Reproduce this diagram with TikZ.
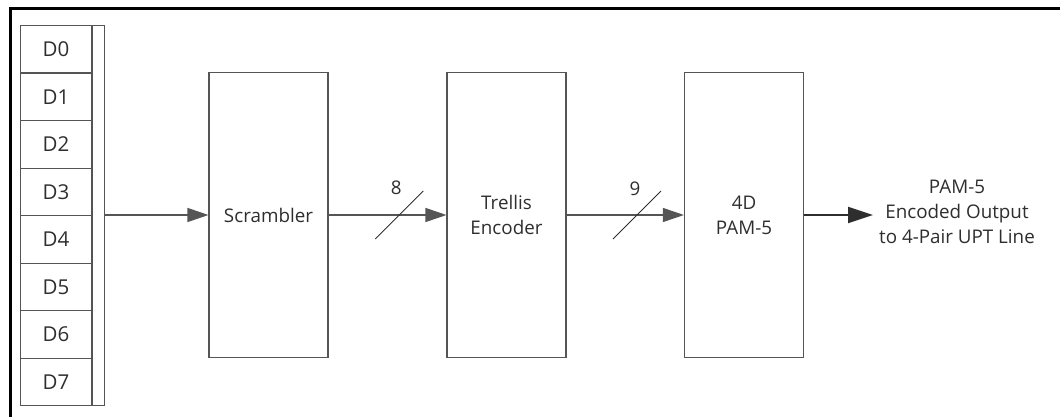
\documentclass[tikz,border=0pt]{standalone}
\usepackage{fontspec}
\setmainfont{Open Sans}
\usetikzlibrary{positioning,arrows.meta}

\definecolor{linegray}{HTML}{555555}
\definecolor{textgray}{HTML}{2E2E2E}

\tikzset{
    cell/.style={draw=linegray, line width=1.1pt, minimum width=71pt, minimum height=47.5pt,
        inner sep=0pt, anchor=north west, text=textgray, font=\fontsize{20.5}{24}\selectfont},
    block/.style={draw=linegray, line width=1.1pt, minimum width=119pt, minimum height=285pt,
        inner sep=0pt, align=center, text=textgray},
    sig/.style={draw=linegray, line width=1.1pt, -{Triangle[length=21pt,width=14pt]}},
    bus/.style={draw=textgray, line width=0.8pt},
    busno/.style={text=textgray, inner sep=0pt}
}

\begin{document}
\begin{tikzpicture}[x=1pt, y=-1pt, font=\fontsize{18.8}{25}\selectfont]
    \useasboundingbox (0,0) rectangle (1060,417);

    % frame
    \draw[line width=3pt] (10,417) -- (10,9) -- (1060,9);

    % data register
    \foreach \i in {0,...,7}
        \node[cell] (d\i) at (20,25+47.5*\i) {D\i};
    \node[cell, minimum width=12pt, minimum height=380pt] (strip) at (d0.north east) {};

    % processing chain
    \node[block] (scr) at (268.5,215) {Scrambler};
    \node[block] (trel) at (506.5,215) {Trellis\\Encoder};
    \node[block] (pam) at (744,215) {4D\\PAM-5};
    \node[align=center, text=textgray] (out) at (957,212) {PAM-5\\Encoded Output\\to 4-Pair UPT Line};
    \coordinate (tip) at (873,215);

    \draw[sig] (strip.east |- scr.west) -- (scr.west);
    \draw[sig] (scr.east) -- (trel.west) coordinate[pos=0.6] (b8);
    \draw[sig] (trel.east) -- (pam.west) coordinate[pos=0.6] (b9);
    \draw[draw=textgray, line width=2.2pt, -{Triangle[length=25pt,width=16pt]}] (pam.east) -- (tip);

    % bus widths
    \draw[bus] ([shift={(-24,24)}]b8) -- ([shift={(24,-24)}]b8);
    \draw[bus] ([shift={(-24,24)}]b9) -- ([shift={(24,-24)}]b9);
    \node[busno] (n8) at ([shift={(-3,-27)}]b8) {8};
    \node[busno] (n9) at ([shift={(-2,-26)}]b9) {9};
\end{tikzpicture}
\end{document}
